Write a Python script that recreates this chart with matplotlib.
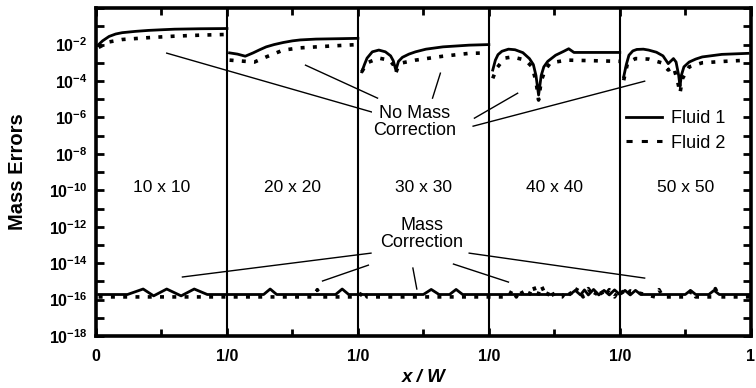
import numpy as np
import matplotlib
matplotlib.use("Agg")
import matplotlib.pyplot as plt
from matplotlib.lines import Line2D

plt.rcParams["font.family"] = ["Liberation Sans", "DejaVu Sans"]
plt.rcParams["mathtext.fontset"] = "custom"
plt.rcParams["mathtext.rm"] = "Liberation Sans"
plt.rcParams["mathtext.bf"] = "Liberation Sans:bold"

# ---- data: no mass correction, one segment per grid ----
grid_labels = ["10 x 10", "20 x 20", "30 x 30", "40 x 40", "50 x 50"]

f1_x = [
    [0.02, 0.05, 0.10, 0.15, 0.20, 0.30, 0.40, 0.50, 0.60, 0.80, 1.00],
    [1.02, 1.08, 1.14, 1.20, 1.25, 1.30, 1.36, 1.43, 1.50, 1.56, 1.68, 1.85, 2.00],
    [2.03, 2.05, 2.07, 2.11, 2.16, 2.21, 2.25, 2.27, 2.29, 2.31, 2.34, 2.39, 2.44, 2.52, 2.65, 2.85, 3.00],
    [3.03, 3.05, 3.07, 3.10, 3.15, 3.20, 3.26, 3.31, 3.34, 3.36, 3.38, 3.40, 3.42, 3.45, 3.51, 3.57,
     3.61, 3.65, 3.79, 4.00],
    [4.03, 4.05, 4.07, 4.10, 4.13, 4.18, 4.22, 4.28, 4.33, 4.37, 4.41, 4.43, 4.45, 4.46, 4.47, 4.49,
     4.53, 4.58, 4.63, 4.78, 4.98],
]
f1_y = [
    [1.0e-2, 1.6e-2, 2.8e-2, 3.8e-2, 4.5e-2, 5.3e-2, 6.0e-2, 6.5e-2, 7.0e-2, 7.4e-2, 7.6e-2],
    [3.5e-3, 3.0e-3, 2.3e-3, 3.5e-3, 5.2e-3, 7.5e-3, 1.0e-2, 1.3e-2, 1.6e-2, 1.8e-2, 2.0e-2, 2.1e-2, 2.2e-2],
    [3.2e-4, 8.0e-4, 1.8e-3, 4.0e-3, 5.0e-3, 4.0e-3, 2.4e-3, 1.3e-3, 4.0e-4, 1.2e-3, 2.0e-3, 3.0e-3, 4.0e-3,
     5.6e-3, 7.5e-3, 9.3e-3, 1.0e-2],
    [4.0e-4, 1.4e-3, 2.8e-3, 4.3e-3, 5.6e-3, 5.2e-3, 3.6e-3, 1.7e-3, 8.0e-4, 2.0e-4, 1.7e-5, 2.0e-4, 6.0e-4,
     1.2e-3, 2.6e-3, 4.2e-3, 5.9e-3, 3.7e-3, 3.7e-3, 3.7e-3],
    [1.7e-4, 8.0e-4, 2.6e-3, 4.5e-3, 5.4e-3, 5.6e-3, 5.0e-3, 3.8e-3, 2.4e-3, 9.0e-4, 1.7e-3, 1.1e-3, 2.0e-4,
     5.0e-5, 2.0e-4, 6.0e-4, 1.1e-3, 1.6e-3, 2.1e-3, 2.9e-3, 3.3e-3],
]
f2_x = [
    [0.02, 0.10, 0.20, 0.40, 0.60, 0.80, 1.00],
    [1.02, 1.21, 1.30, 1.43, 1.56, 1.81, 2.00],
    [2.03, 2.07, 2.16, 2.24, 2.27, 2.29, 2.31, 2.34, 2.44, 2.65, 2.85, 3.00],
    [3.03, 3.06, 3.12, 3.18, 3.28, 3.33, 3.36, 3.38, 3.40, 3.43, 3.47, 3.60, 3.80, 4.00],
    [4.03, 4.06, 4.12, 4.22, 4.32, 4.37, 4.41, 4.44, 4.46, 4.48, 4.53, 4.63, 4.80, 4.98],
]
f2_y = [
    [7.0e-3, 1.4e-2, 1.9e-2, 2.4e-2, 2.9e-2, 3.3e-2, 3.6e-2],
    [1.4e-3, 1.1e-3, 2.1e-3, 5.0e-3, 6.6e-3, 8.5e-3, 1.0e-2],
    [3.2e-4, 1.0e-3, 1.8e-3, 1.4e-3, 8.0e-4, 2.8e-4, 7.0e-4, 1.0e-3, 1.4e-3, 2.3e-3, 3.3e-3, 3.5e-3],
    [1.4e-4, 5.0e-4, 1.8e-3, 2.1e-3, 1.4e-3, 6.0e-4, 1.0e-4, 9.0e-6, 1.0e-4, 4.0e-4, 1.0e-3, 1.4e-3,
     1.3e-3, 1.2e-3],
    [1.1e-4, 1.0e-3, 1.7e-3, 1.6e-3, 1.0e-3, 4.0e-4, 6.0e-4, 1.1e-4, 2.2e-5, 1.4e-4, 6.0e-4, 1.0e-3,
     1.2e-3, 1.4e-3],
]

# ---- data: with mass correction ----
mc1_x = [0.02, 0.24, 0.36, 0.44, 0.54, 0.65, 0.75, 0.85, 1.28, 1.33, 1.38, 1.83, 1.88, 1.93,
         2.50, 2.56, 2.62, 2.70, 2.75, 2.80, 3.62, 3.66, 3.70, 3.73, 3.76, 3.80, 3.84, 3.88,
         3.92, 3.96, 4.00, 4.04, 4.08, 4.12, 4.16, 4.50, 4.54, 4.58, 4.68, 4.72, 4.76, 5.00]
mc1_y = [1.9e-16, 1.9e-16, 3.8e-16, 1.6e-16, 3.8e-16, 1.6e-16, 3.8e-16, 1.9e-16, 1.9e-16, 3.8e-16,
         1.9e-16, 1.9e-16, 3.8e-16, 1.9e-16, 1.9e-16, 3.6e-16, 1.9e-16, 1.9e-16, 3.6e-16, 1.9e-16,
         1.9e-16, 3.2e-16, 1.8e-16, 3.4e-16, 1.8e-16, 3.6e-16, 1.8e-16, 3.2e-16, 1.8e-16, 3.4e-16,
         1.9e-16, 3.2e-16, 1.8e-16, 3.2e-16, 1.9e-16, 1.9e-16, 3.2e-16, 1.9e-16, 1.9e-16, 3.2e-16,
         1.9e-16, 1.9e-16]
mc2_x = [0.02, 1.66, 1.69, 1.72, 2.01, 2.04, 2.07, 3.15, 3.18, 3.21, 3.24, 3.27, 3.30, 3.34,
         3.37, 3.40, 3.44, 3.47, 3.50, 3.56, 3.60, 3.64, 3.68, 3.72, 3.76, 3.80, 3.84, 3.88,
         3.92, 3.96, 4.00, 4.04, 4.08, 4.27, 4.30, 4.33, 4.52, 4.55, 4.58, 4.70, 4.73, 4.76, 5.00]
mc2_y = [1.4e-16, 1.4e-16, 3.5e-16, 1.4e-16, 1.4e-16, 3.5e-16, 1.4e-16, 1.4e-16, 3.6e-16, 1.4e-16,
         3.6e-16, 1.4e-16, 1.4e-16, 6.0e-16, 1.4e-16, 6.0e-16, 1.4e-16, 4.0e-16, 1.4e-16, 1.4e-16,
         3.5e-16, 1.4e-16, 4.5e-16, 1.4e-16, 4.0e-16, 1.4e-16, 4.5e-16, 1.4e-16, 3.5e-16, 1.4e-16,
         4.0e-16, 1.4e-16, 3.0e-16, 1.4e-16, 3.5e-16, 1.4e-16, 1.4e-16, 3.5e-16, 1.4e-16, 1.4e-16,
         4.0e-16, 1.4e-16, 1.4e-16]

x_ticklabels = ["0", "1/0", "1/0", "1/0", "1/0", "1"]
y_exponents = list(range(-18, 0, 2))

# annotation leader lines: (x0, log10 y0, x1, log10 y1)
nomc_lines = [(0.54, -2.47, 2.11, -5.71), (1.60, -3.13, 2.15, -4.94), (2.63, -3.57, 2.57, -4.94),
              (3.22, -4.67, 2.89, -6.04), (4.19, -4.01, 2.88, -6.48)]
mc_lines = [(0.66, -14.76, 2.10, -13.45), (1.73, -14.98, 2.08, -14.11), (2.42, -14.27, 2.45, -15.42),
            (2.73, -14.05, 3.15, -15.04), (2.85, -13.45, 4.19, -14.82)]

fig = plt.figure(figsize=(7.56, 3.88), dpi=100)
ax = fig.add_axes([0.127, 0.134, 0.866, 0.845])

dot = dict(color="black", linewidth=2.6, linestyle=(0, (1.1, 2.3)))
sol = dict(color="black", linewidth=2.0)

for xs, ys in zip(f2_x, f2_y):
    ax.plot(xs, ys, **dot)
for xs, ys in zip(f1_x, f1_y):
    ax.plot(xs, ys, **sol)
ax.plot(mc2_x, mc2_y, **dot)
ax.plot(mc1_x, mc1_y, **sol)

for xb in range(1, 5):
    ax.axvline(xb, color="black", linewidth=1.5)

for x0, y0, x1, y1 in nomc_lines + mc_lines:
    ax.plot([x0, x1], [10 ** y0, 10 ** y1], color="black", linewidth=1.0)

ax.text(2.43, 10 ** -6.26, "No Mass\nCorrection", ha="center", va="center",
        fontsize=13, linespacing=1.0,
        bbox=dict(facecolor="white", edgecolor="none", pad=0.5))
ax.text(2.49, 10 ** -12.40, "Mass\nCorrection", ha="center", va="center",
        fontsize=13, linespacing=1.0)

for i, lab in enumerate(grid_labels):
    ax.text(i + 0.5, 10 ** -9.82, lab, ha="center", va="center", fontsize=12.5)

ax.set_yscale("log")
ax.set_ylim(1e-18, 1e0)
ax.set_xlim(0, 5)

ax.set_yticks([10.0 ** e for e in range(-18, 1)])
ax.set_yticklabels([r"$\mathbf{10^{%d}}$" % e if e in y_exponents else "" for e in range(-18, 1)])
ax.yaxis.set_minor_locator(matplotlib.ticker.NullLocator())
ax.set_xticks(range(6))
ax.set_xticklabels(x_ticklabels, fontweight="bold")
ax.set_xticks(np.arange(0.5, 5, 1.0), minor=True)

ax.tick_params(axis="both", which="major", direction="in", length=6, width=2,
               top=True, right=True, labelsize=11.5)
ax.tick_params(axis="x", which="major", pad=9)
ax.tick_params(axis="y", which="major", pad=6)
ax.tick_params(axis="x", which="minor", direction="in", length=5, width=2, top=True)
for sp in ax.spines.values():
    sp.set_linewidth(2.6)

ax.set_ylabel("Mass Errors", fontsize=14.5, fontweight="bold")
ax.yaxis.set_label_coords(-0.105, 0.5)
ax.set_xlabel("x / W", fontsize=13.5, fontweight="bold", fontstyle="italic", labelpad=4)

handles = [Line2D([], [], **sol), Line2D([], [], color="black", linewidth=2.2, linestyle=(0, (2, 3)))]
ax.legend(handles, ["Fluid 1", "Fluid 2"], loc="center left", bbox_to_anchor=(0.81, 0.625),
          frameon=False, fontsize=13, handlelength=2.0, handletextpad=0.5,
          labelspacing=0.4, borderpad=0, borderaxespad=0)

fig.savefig("out.png", dpi=100)
